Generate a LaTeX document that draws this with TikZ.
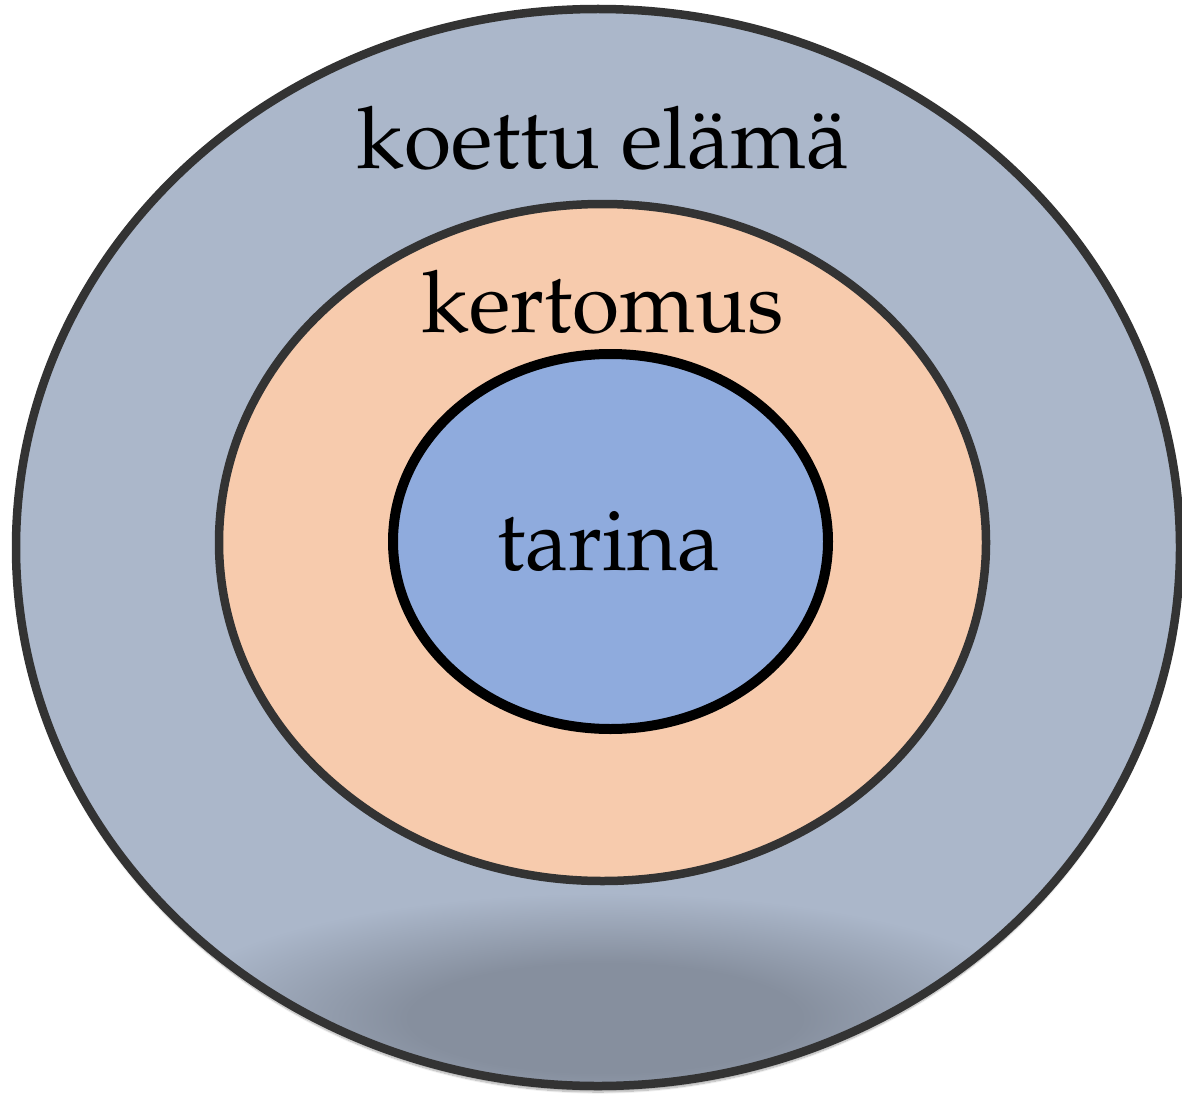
\documentclass[tikz,border=0pt]{standalone}
\usepackage[T1]{fontenc}
\usepackage{mathpazo}
\usetikzlibrary{shapes.geometric,shadows.blur}

\definecolor{elamafill}{HTML}{ABB7CA}
\definecolor{kertomusfill}{HTML}{F7CBAD}
\definecolor{tarinafill}{HTML}{8FABDD}
\definecolor{rimgray}{HTML}{333333}
\definecolor{dimgray}{HTML}{868F9E}

\pgfdeclareradialshading{bottomdim}{\pgfpointorigin}{color(0bp)=(dimgray); color(11bp)=(dimgray); color(25bp)=(elamafill); color(50bp)=(elamafill)}

\tikzset{
	layer/.style={ellipse, inner sep=0pt, outer sep=0pt},
	label text/.style={font=\fontsize{86}{90}\selectfont, anchor=base}
}

\begin{document}
\begin{tikzpicture}[x=1pt, y=-1pt]
		\useasboundingbox (0,0) rectangle (1182,1094);

		\node [layer, fill=elamafill, minimum width=1164pt, minimum height=1077pt,
			blur shadow={shadow xshift=0pt, shadow yshift=-6pt, shadow opacity=35, shadow blur steps=12}]
			at (598,547.5) (elama) {};

		% darker patch at the bottom
		\begin{scope}
			\clip (598,547.5) ellipse (582 and 538.5);
			\shade [shading=bottomdim] (605,1018) ellipse (445 and 125);
		\end{scope}
		\draw [rimgray, line width=8.5pt] (598,547.5) ellipse (582 and 538.5);

		\node [layer, fill=kertomusfill, draw=rimgray, line width=8.5pt,
			minimum width=767pt, minimum height=677pt] at (602.5,542.5) (kertomus) {};

		\node [layer, fill=tarinafill, draw=black, line width=10pt,
			minimum width=435pt, minimum height=375pt] at (610.5,541.5) (tarina) {};

		\node [label text] at (603,168) (elamatext) {koettu el\"am\"a};
		\node [label text] at (603,332) (kertomustext) {kertomus};
		\node [label text] at (609,570) (tarinatext) {tarina};
	\end{tikzpicture}
\end{document}
